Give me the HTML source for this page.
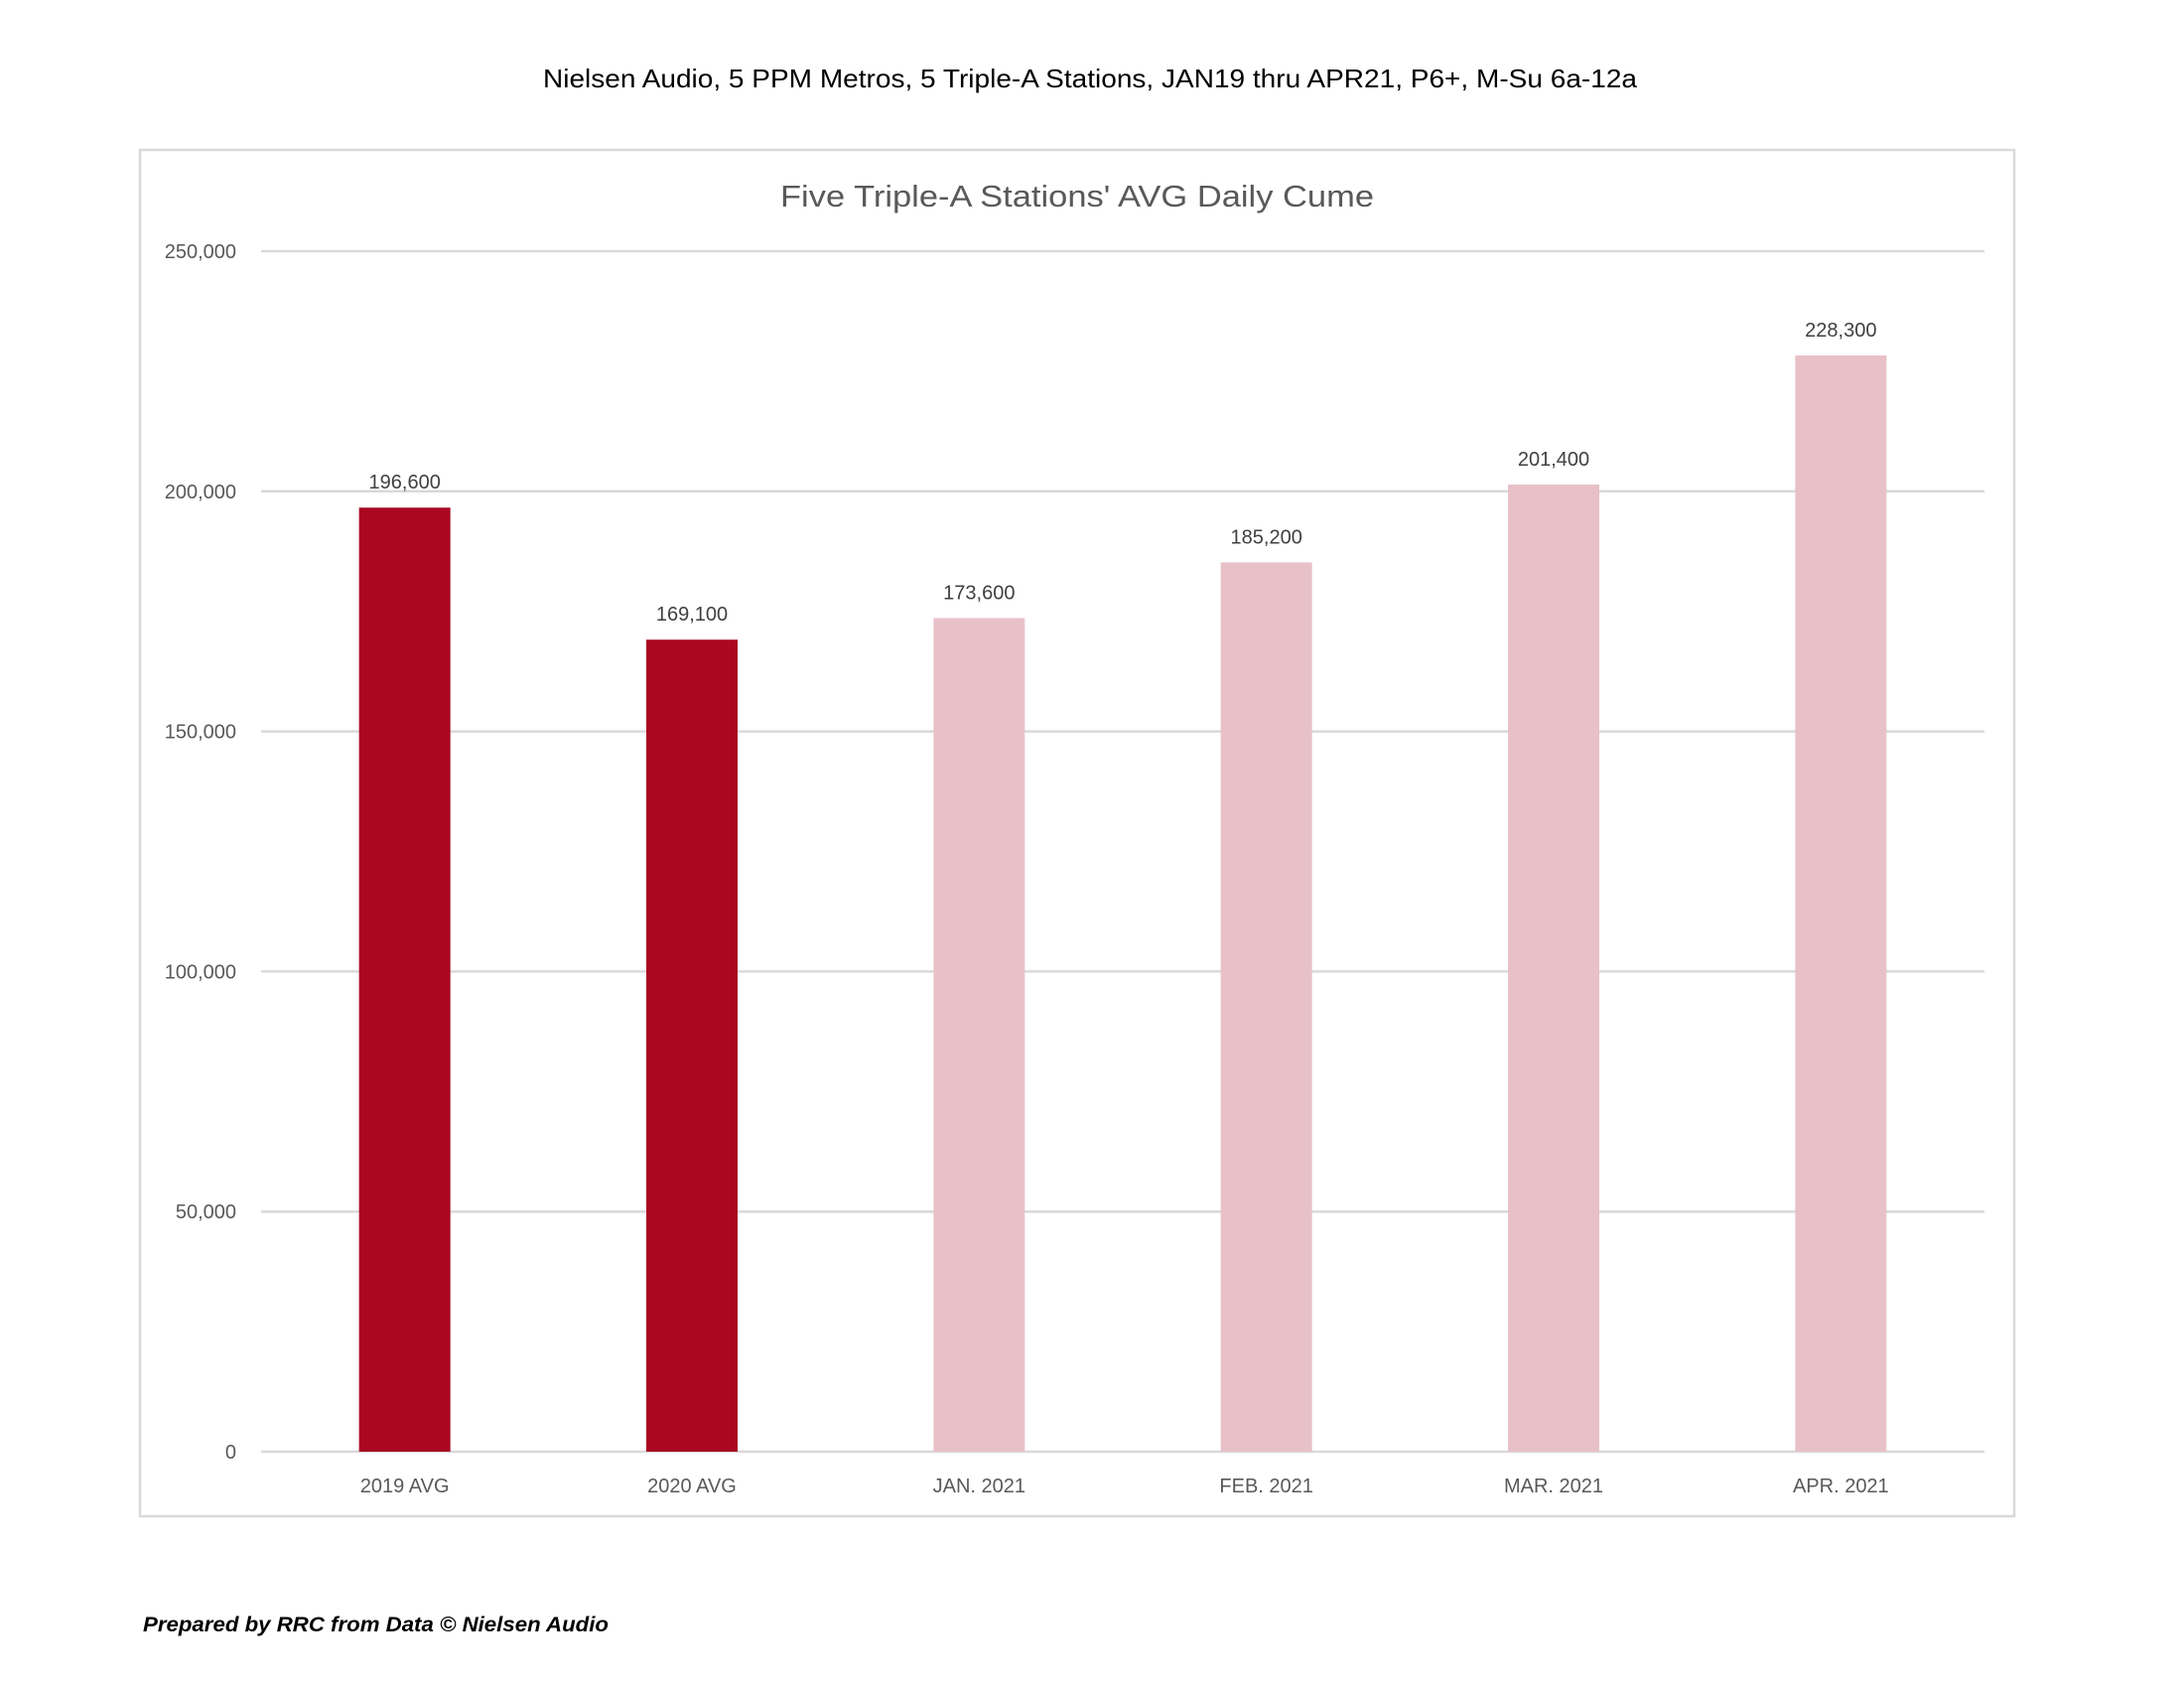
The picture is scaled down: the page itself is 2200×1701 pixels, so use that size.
<!DOCTYPE html>
<html><head><meta charset="utf-8"><style>
html,body{margin:0;padding:0;background:#fff;width:2200px;height:1701px;overflow:hidden}
svg{display:block}
</style></head><body>
<svg id="chart" width="2200" height="1701" xmlns="http://www.w3.org/2000/svg">
<text x="1098" y="88" text-anchor="middle" font-family="Liberation Sans, sans-serif" font-size="26" fill="#000" textLength="1102" lengthAdjust="spacingAndGlyphs">Nielsen Audio, 5 PPM Metros, 5 Triple-A Stations, JAN19 thru APR21, P6+, M-Su 6a-12a</text>
<rect x="141" y="151" width="1888" height="1376" fill="#fff" stroke="#d9d9d9" stroke-width="2.5"/>
<text x="1085" y="208" text-anchor="middle" font-family="Liberation Sans, sans-serif" font-size="31" fill="#595959" textLength="598" lengthAdjust="spacingAndGlyphs">Five Triple-A Stations' AVG Daily Cume</text>
<g id="grid"></g><g id="bars"></g><g id="labels"></g>
<text x="144" y="1643" font-family="Liberation Sans, sans-serif" font-size="21" font-weight="bold" font-style="italic" fill="#000" textLength="469" lengthAdjust="spacingAndGlyphs">Prepared by RRC from Data © Nielsen Audio</text>
</svg>
<script>
const categories = ["2019 AVG","2020 AVG","JAN. 2021","FEB. 2021","MAR. 2021","APR. 2021"];
const values = [196600,169100,173600,185200,201400,228300];
const valueLabels = ["196,600","169,100","173,600","185,200","201,400","228,300"];
const highlight = [true,true,false,false,false,false];
const yTicks = [0,50000,100000,150000,200000,250000];
const yTickLabels = ["0","50,000","100,000","150,000","200,000","250,000"];

const NS="http://www.w3.org/2000/svg";
const plotL=263, plotR=1999, y0=1462, yTop=253, yMax=250000;
const y = v => y0 - v/yMax*(y0-yTop);
const band=(plotR-plotL)/categories.length;
const x = i => plotL + band*(i+0.5);
const barW=92;
function mk(tag, attrs, parent, txt){const e=document.createElementNS(NS,tag);for(const k in attrs)e.setAttribute(k,attrs[k]);if(txt!==undefined)e.textContent=txt;parent.appendChild(e);return e;}
const grid=document.getElementById('grid'), bars=document.getElementById('bars'), labels=document.getElementById('labels');
yTicks.forEach((t,i)=>{
  const l=mk('line',{x1:plotL,x2:plotR,y1:y(t),y2:y(t),stroke:'#d9d9d9','stroke-width':2.5},grid);
  
  
  const tx=mk('text',{x:238,y:y(t)+7,'text-anchor':'end','font-family':'Liberation Sans, sans-serif','font-size':20,fill:'#595959'},grid,yTickLabels[i]);
  
  
});
categories.forEach((c,i)=>{
  const r=mk('rect',{x:x(i)-barW/2,y:y(values[i]),width:barW,height:y0-y(values[i]),fill:highlight[i]?'#AA0722':'#E8C1C8'},bars);
  
  
  const v=mk('text',{x:x(i),y:y(values[i])-19,'text-anchor':'middle','font-family':'Liberation Sans, sans-serif','font-size':20,fill:'#404040'},labels,valueLabels[i]);
  
  
  const cl=mk('text',{x:x(i),y:1503,'text-anchor':'middle','font-family':'Liberation Sans, sans-serif','font-size':20,fill:'#595959'},labels,c);
  
  
});
</script>
</body></html>
